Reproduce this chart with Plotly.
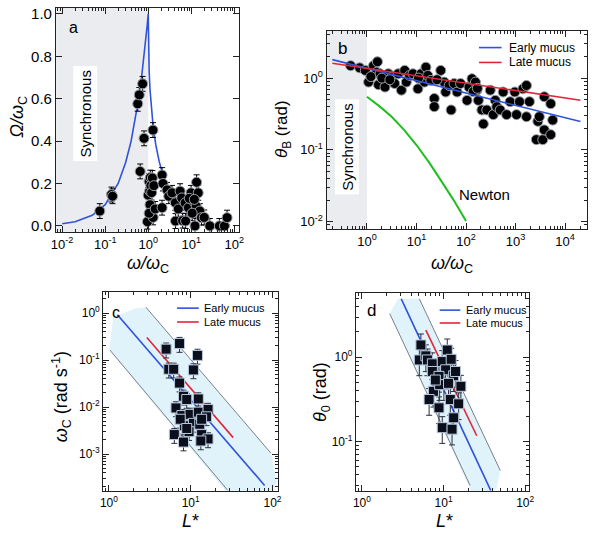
import plotly.graph_objects as go

FONT = "Liberation Sans, Arial, sans-serif"
BLUE = "#2f52db"
RED = "#e0263a"
GREEN = "#1fbf1f"
GRAYLINE = "#7a8088"
BAND = "rgba(224,242,250,1)"
SYNC = "#eaecef"

# ---------------- Panel a data ----------------
a_x = [0.075, 0.14, 0.148, 0.57, 0.62, 0.74, 0.80, 0.65, 1.29,
       0.96, 1.0, 1.05, 1.08, 1.12, 1.15, 1.2, 1.25, 1.18, 1.3, 1.1, 1.35, 1.05, 1.45,
       2.1, 2.2, 2.74, 2.1, 3.0, 3.57, 4.27, 4.3, 5.5, 6.0, 5.0, 6.3, 7.2, 7.4,
       8.6, 9.9, 11.2, 13.3, 14.5, 13.0, 15.8, 12.2, 17.3, 20.0, 27.0, 45.0, 59.0, 68.0,
       10.5, 9.0, 11.8]
a_y = [0.07, 0.148, 0.14, 0.576, 0.618, 0.67, 0.413, 0.257, 0.452,
       0.02, 0.145, 0.21, 0.165, 0.228, 0.19, 0.157, 0.226, 0.07, 0.04, 0.10, 0.19, 0.06, 0.08,
       0.24, 0.20, 0.17, 0.086, 0.14, 0.156, 0.109, 0.023, 0.164, 0.132, 0.08, 0.025, 0.109, 0.023,
       0.086, 0.156, 0.117, 0.206, 0.156, 0.093, 0.07, 0.0, 0.039, 0.04, 0.0, 0.0, 0.0, 0.039,
       0.06, 0.13, 0.125]
a_err = 0.035
a_curve_x = [0.01, 0.02, 0.05, 0.1, 0.2, 0.3, 0.4, 0.5, 0.6, 0.7, 0.8, 0.9, 0.95, 1.0,
             1.005, 1.02, 1.05, 1.1, 1.2, 1.3, 1.5, 1.8, 2.2, 3.0, 4.0, 6.0, 10.0, 15.0, 20.0]
a_curve_y = [0.01, 0.02, 0.05, 0.1, 0.2, 0.3, 0.4, 0.5, 0.6, 0.7, 0.8, 0.9, 0.95, 1.0,
             0.905, 0.819, 0.730, 0.642, 0.537, 0.469, 0.382, 0.303, 0.240, 0.172, 0.127,
             0.084, 0.050, 0.033, 0.025]

# ---------------- Panel b data ----------------
b_x = [0.468, 0.714, 0.927, 1.08, 1.36, 1.63, 1.58, 1.84, 1.71, 2.32, 2.70, 3.16, 3.63, 4.27,
       4.97, 5.79, 6.25, 7.28, 8.51, 10.7, 12.4, 14.5, 15.5, 16.9, 19.5, 22.9, 22.9, 30.9,
       36.3, 38.9, 45.7, 50.1, 57.5, 66.1, 77.6, 105, 115, 132, 155, 166, 178, 209, 224,
       263, 309, 355, 389, 417, 490, 562, 661, 776, 966, 1047, 1202, 1413, 1660, 1905,
       1660, 2630, 3548, 2818, 3020, 3802, 3802, 5129, 5623, 5129,
       2.0, 2.9, 1.2, 140, 170, 11.0, 26.0]
b_y = [1.49, 1.39, 1.28, 0.88, 1.49, 1.69, 1.21, 1.15, 0.81, 0.75, 1.15, 1.03, 0.84, 1.15,
       0.68, 1.28, 0.88, 1.09, 1.15, 0.71, 1.15, 0.88, 1.42, 1.09, 0.93, 0.52, 0.40, 1.28,
       0.88, 0.64, 0.79, 0.36, 0.84, 0.64, 0.84, 0.49, 0.75, 0.98, 0.88, 0.68, 0.49, 0.36, 0.23,
       0.36, 0.68, 0.31, 0.49, 0.40, 0.36, 0.64, 0.31, 0.47, 0.64, 0.31, 0.47, 0.71, 0.79, 0.47,
       0.29, 0.139, 0.139, 0.25, 0.29, 0.19, 0.55, 0.44, 0.26, 0.163,
       1.0, 0.95, 1.05, 0.65, 0.72, 1.0, 0.95]
b_early_x = [0.2, 20400]
b_early_y = [1.81, 0.248]
b_late_x = [0.2, 20400]
b_late_y = [1.61, 0.493]
b_newton_x = [1.0, 1.78, 3.16, 5.62, 10.0, 17.8, 31.6, 56.2, 100.0]
b_newton_y = [0.55, 0.407, 0.29, 0.19, 0.117, 0.0676, 0.037, 0.02, 0.0102]

# ---------------- Panel c data ----------------
c_x = [5.01, 7.31, 12.1, 5.40, 6.19, 10.8, 7.31, 8.17, 8.95, 12.4, 6.61, 7.80, 9.82, 12.4,
       16.3, 15.6, 8.39, 10.8, 12.9, 9.55, 13.6, 16.3, 6.31, 8.17, 13.3, 7.45, 13.6, 8.95]
c_y = [0.171, 0.225, 0.126, 0.0638, 0.0638, 0.0618, 0.0324, 0.017, 0.0145, 0.0149, 0.0096,
       0.0066, 0.007, 0.0078, 0.0089, 0.0062, 0.004, 0.0045, 0.0043, 0.003, 0.0026, 0.0021,
       0.0026, 0.0018, 0.0019, 0.0055, 0.0055, 0.0035]
c_early_x = [1.27, 80.2]
c_early_y = [0.923, 2.15e-4]
c_late_x = [2.91, 33.1]
c_late_y = [0.302, 2.24e-3]
c_upper_x = [2.83, 95.5]
c_upper_y = [1.34, 1.05e-3]
c_lower_x = [1.03, 28.3]
c_lower_y = [0.163, 1.7e-4]
c_band_x = [1.01, 1.13, 2.15, 2.83, 95.5, 112.7, 100.0, 28.8, 1.01]
c_band_y = [0.163, 0.824, 1.27, 1.34, 1.05e-3, 2.5e-4, 1.4e-4, 1.4e-4, 0.163]

# ---------------- Panel d data ----------------
d_x = [5.28, 5.05, 6.07, 6.35, 7.29, 7.29, 9.64, 11.1, 12.4, 10.6, 8.79, 10.1, 13.3, 14.0,
       16.3, 7.52, 6.65, 8.79, 12.1, 15.3, 13.3, 9.64, 12.7, 8.95, 11.5, 7.94]
d_y = [1.40, 0.93, 1.04, 0.93, 0.836, 0.678, 0.889, 1.22, 0.946, 0.71, 0.593, 0.473, 0.603,
       0.678, 0.452, 0.394, 0.315, 0.251, 0.315, 0.28, 0.191, 0.146, 0.14, 0.473, 0.49, 0.537]
d_early_x = [3.03, 37.8]
d_early_y = [4.94, 0.0263]
d_late_x = [6.07, 25.5]
d_late_y = [2.10, 0.117]
d_upper_x = [5.05, 49.5]
d_upper_y = [4.94, 0.0452]
d_lower_x = [2.19, 21.1]
d_lower_y = [3.30, 0.0302]
d_band_x = [2.19, 2.77, 5.05, 49.5, 44.7, 38.0, 22.4, 2.19]
d_band_y = [3.30, 4.94, 4.94, 0.0452, 0.0282, 0.024, 0.024, 3.30]

# tick labels
a_xticks = [0.01, 0.1, 1, 10, 100]
a_xtext = ["10<sup>-2</sup>", "10<sup>-1</sup>", "10<sup>0</sup>", "10<sup>1</sup>", "10<sup>2</sup>"]
a_yticks = [0.0, 0.2, 0.4, 0.6, 0.8, 1.0]
a_ytext = ["0.0", "0.2", "0.4", "0.6", "0.8", "1.0"]
b_xticks = [1, 10, 100, 1000, 10000]
b_xtext = ["10<sup>0</sup>", "10<sup>1</sup>", "10<sup>2</sup>", "10<sup>3</sup>", "10<sup>4</sup>"]
b_yticks = [0.01, 0.1, 1]
b_ytext = ["10<sup>-2</sup>", "10<sup>-1</sup>", "10<sup>0</sup>"]
cd_xticks = [1, 10, 100]
cd_xtext = ["10<sup>0</sup>", "10<sup>1</sup>", "10<sup>2</sup>"]
c_yticks = [0.001, 0.01, 0.1, 1]
c_ytext = ["10<sup>-3</sup>", "10<sup>-2</sup>", "10<sup>-1</sup>", "10<sup>0</sup>"]
d_yticks = [0.1, 1]
d_ytext = ["10<sup>-1</sup>", "10<sup>0</sup>"]
legend_names = ["Early mucus", "Late mucus"]
legend_colors = [BLUE, RED]

# axis ranges (log10 for log axes)
a_xr, a_yr = [-2.14, 2.11], [-0.028, 1.028]
b_xr, b_yr = [-0.815, 4.445], [-2.1, 0.66]
c_xr, c_yr = [-0.068, 2.072], [-3.795, 0.443]
d_xr, d_yr = [-0.072, 2.048], [-1.593, 0.76]

fig = go.Figure()

circ = dict(color="black", size=10, line=dict(color="#9aa0a8", width=1))
sq = dict(color="#0b0f1c", size=10, symbol="square", line=dict(color="#b8c8dc", width=1))
noline = dict(color="rgba(0,0,0,0)", width=0)

# ---- a ----
fig.add_trace(go.Scatter(x=a_curve_x, y=a_curve_y, mode="lines", line=dict(color=BLUE, width=1.6),
                         xaxis="x", yaxis="y", showlegend=False))
fig.add_trace(go.Scatter(x=a_x, y=a_y, mode="markers", marker=circ,
                         error_y=dict(type="constant", value=a_err, color="black", thickness=1, width=3),
                         xaxis="x", yaxis="y", showlegend=False))

# ---- b ----
fig.add_trace(go.Scatter(x=b_x, y=b_y, mode="markers", marker=circ,
                         xaxis="x2", yaxis="y2", showlegend=False))
fig.add_trace(go.Scatter(x=b_early_x, y=b_early_y, mode="lines", line=dict(color=BLUE, width=1.6),
                         name="Early mucus", xaxis="x2", yaxis="y2", showlegend=False))
fig.add_trace(go.Scatter(x=b_late_x, y=b_late_y, mode="lines", line=dict(color=RED, width=1.6),
                         name="Late mucus", xaxis="x2", yaxis="y2", showlegend=False))
fig.add_trace(go.Scatter(x=b_newton_x, y=b_newton_y, mode="lines", line=dict(color=GREEN, width=2),
                         xaxis="x2", yaxis="y2", showlegend=False))

# ---- c ----
fig.add_trace(go.Scatter(x=c_band_x, y=c_band_y, mode="lines", fill="toself", fillcolor=BAND,
                         line=noline, xaxis="x3", yaxis="y3", showlegend=False, hoverinfo="skip"))
fig.add_trace(go.Scatter(x=c_upper_x, y=c_upper_y, mode="lines", line=dict(color=GRAYLINE, width=1),
                         xaxis="x3", yaxis="y3", showlegend=False))
fig.add_trace(go.Scatter(x=c_lower_x, y=c_lower_y, mode="lines", line=dict(color=GRAYLINE, width=1),
                         xaxis="x3", yaxis="y3", showlegend=False))
fig.add_trace(go.Scatter(x=c_early_x, y=c_early_y, mode="lines", line=dict(color=BLUE, width=1.6),
                         name="Early mucus", xaxis="x3", yaxis="y3", showlegend=False))
fig.add_trace(go.Scatter(x=c_late_x, y=c_late_y, mode="lines", line=dict(color=RED, width=1.6),
                         name="Late mucus", xaxis="x3", yaxis="y3", showlegend=False))
fig.add_trace(go.Scatter(x=c_x, y=c_y, mode="markers", marker=sq,
                         error_y=dict(type="percent", value=35, color="#2a3040", thickness=1, width=3),
                         xaxis="x3", yaxis="y3", showlegend=False))

# ---- d ----
fig.add_trace(go.Scatter(x=d_band_x, y=d_band_y, mode="lines", fill="toself", fillcolor=BAND,
                         line=noline, xaxis="x4", yaxis="y4", showlegend=False, hoverinfo="skip"))
fig.add_trace(go.Scatter(x=d_upper_x, y=d_upper_y, mode="lines", line=dict(color=GRAYLINE, width=1),
                         xaxis="x4", yaxis="y4", showlegend=False))
fig.add_trace(go.Scatter(x=d_lower_x, y=d_lower_y, mode="lines", line=dict(color=GRAYLINE, width=1),
                         xaxis="x4", yaxis="y4", showlegend=False))
fig.add_trace(go.Scatter(x=d_early_x, y=d_early_y, mode="lines", line=dict(color=BLUE, width=1.6),
                         name="Early mucus", xaxis="x4", yaxis="y4", showlegend=False))
fig.add_trace(go.Scatter(x=d_late_x, y=d_late_y, mode="lines", line=dict(color=RED, width=1.6),
                         name="Late mucus", xaxis="x4", yaxis="y4", showlegend=False))
fig.add_trace(go.Scatter(x=d_x, y=d_y, mode="markers", marker=sq,
                         error_y=dict(type="percent", value=35, color="#2a3040", thickness=1, width=3),
                         xaxis="x4", yaxis="y4", showlegend=False))


def ax(domain, anchor, rng, typ, tv, tt, fs, minor=True):
    d = dict(domain=domain, anchor=anchor, range=rng, type=typ, tickmode="array",
             tickvals=tv, ticktext=tt, showgrid=False, zeroline=False, showline=True,
             linecolor="#222", linewidth=1.3, mirror="allticks", ticks="inside", ticklen=6,
             tickcolor="#222", tickwidth=1, tickfont=dict(family=FONT, size=fs, color="black"))
    if minor and typ == "log":
        d["minor"] = dict(ticks="inside", ticklen=3, tickcolor="#222", dtick="D1", showgrid=False)
    return d


W, H = 600, 538
def px(x0, x1):
    return [x0 / W, x1 / W]
def py(y0, y1):
    return [1 - y1 / H, 1 - y0 / H]

shapes = [
    dict(type="rect", xref="x domain", yref="y domain",
         x0=0, x1=(0 - a_xr[0]) / (a_xr[1] - a_xr[0]), y0=0, y1=1,
         fillcolor=SYNC, line=dict(width=0), layer="below"),
    dict(type="rect", xref="x2 domain", yref="y2 domain",
         x0=0, x1=(0 - b_xr[0]) / (b_xr[1] - b_xr[0]), y0=0, y1=1,
         fillcolor=SYNC, line=dict(width=0), layer="below"),
]

ann = []
def A(x, y, text, size, angle=0, **kw):
    d = dict(x=x / W, y=1 - y / H, xref="paper", yref="paper", text=text, showarrow=False,
             font=dict(family=FONT, size=size, color="black"), textangle=angle,
             xanchor="center", yanchor="middle")
    d.update(kw)
    ann.append(d)

# manual legends (key line + label) for panels b, c, d
for (lx0, lx1, tx, rows, fs) in [(482, 505, 510, [45, 60], 12),
                                 (175, 197, 200, [308, 322], 11),
                                 (442, 463, 467, [310, 323], 11)]:
    for name, col, yy in zip(legend_names, legend_colors, rows):
        shapes.append(dict(type="line", xref="paper", yref="paper",
                           x0=lx0 / W, x1=lx1 / W, y0=1 - yy / H, y1=1 - yy / H,
                           line=dict(color=col, width=1.6)))
        A(tx, yy, name, fs, xanchor="left")

layout = dict(
    width=W, height=H, margin=dict(l=0, r=0, t=0, b=0),
    paper_bgcolor="white", plot_bgcolor="rgba(0,0,0,0)",
    font=dict(family=FONT, color="black"), showlegend=False,
    xaxis=ax(px(52, 238), "y", a_xr, "log", a_xticks, a_xtext, 13),
    yaxis=ax(py(5, 231), "x", a_yr, "linear", a_yticks, a_ytext, 15, minor=False),
    xaxis2=ax(px(327, 592), "y2", b_xr, "log", b_xticks, b_xtext, 13),
    yaxis2=ax(py(28, 228), "x2", b_yr, "log", b_yticks, b_ytext, 13),
    xaxis3=ax(px(100, 278), "y3", c_xr, "log", cd_xticks, cd_xtext, 12),
    yaxis3=ax(py(292, 493), "x3", c_yr, "log", c_yticks, c_ytext, 12),
    xaxis4=ax(px(357, 533), "y4", d_xr, "log", cd_xticks, cd_xtext, 12),
    yaxis4=ax(py(293, 493), "x4", d_yr, "log", d_yticks, d_ytext, 12),
    shapes=shapes,
)
fig.update_layout(**layout)

A(14, 115, "<i>Ω/ω</i><sub>C</sub>", 18, -90)
A(145, 264, "<i>ω/ω</i><sub>C</sub>", 18)
A(283, 127, "<i>θ</i><sub>B</sub> (rad)", 17, -90)
A(455, 264, "<i>ω/ω</i><sub>C</sub>", 18)
A(57, 398, "<i>ω</i><sub>C</sub> (rad s<sup>-1</sup>)", 18, -90)
A(189, 523, "<i>L</i>*", 18)
A(322, 393, "<i>θ</i><sub>0</sub> (rad)", 18, -90)
A(447, 523, "<i>L</i>*", 18)
A(70, 25, "a", 16)
A(343, 46, "b", 17)
A(113, 312, "c", 16)
A(373, 310, "d", 17)
A(82, 112, "Synchronous", 15, -90, bgcolor="white", borderpad=3)
A(348, 145, "Synchronous", 15, -90, bgcolor="white", borderpad=3)
A(488, 193, "Newton", 15)
fig.update_layout(annotations=ann)

# remove the browser's default 8px page margin so the figure sits at the window origin
fig.write_html("out.html", config={"displayModeBar": False},
               post_script="document.body.style.margin='0';")
